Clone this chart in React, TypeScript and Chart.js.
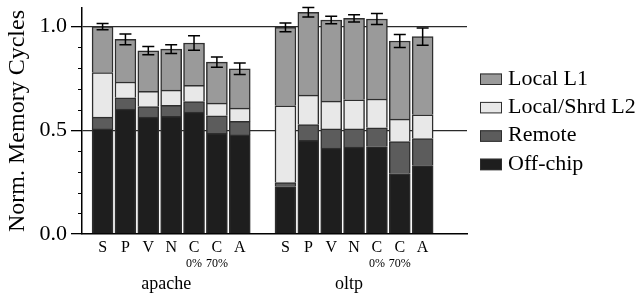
import React, { useEffect, useRef } from 'react';
import { Chart, registerables } from 'chart.js';

Chart.register(...registerables);

// ---------- data ----------
const groups = ['apache', 'oltp'];
const configs = ['S', 'P', 'V', 'N', 'C', 'C', 'A'];
const configNotes = ['', '', '', '', '0%', '70%', ''];
const seriesNames = ['Off-chip', 'Remote', 'Local/Shrd L2', 'Local L1'];
const offChip = [0.507, 0.602, 0.564, 0.568, 0.588, 0.485, 0.478, 0.229, 0.452, 0.414, 0.419, 0.422, 0.29, 0.33];
const remote = [0.057, 0.055, 0.051, 0.052, 0.051, 0.085, 0.065, 0.019, 0.076, 0.093, 0.088, 0.09, 0.156, 0.13];
const localL2 = [0.215, 0.076, 0.073, 0.074, 0.078, 0.061, 0.064, 0.37, 0.142, 0.134, 0.14, 0.139, 0.108, 0.115];
const localL1 = [0.221, 0.206, 0.196, 0.198, 0.204, 0.198, 0.19, 0.379, 0.399, 0.391, 0.393, 0.386, 0.377, 0.377];
const errors = [0.015, 0.026, 0.02, 0.021, 0.035, 0.025, 0.028, 0.021, 0.023, 0.018, 0.017, 0.027, 0.031, 0.042];
const yMajorTicks = [0, 0.5, 1.0];
const yTickLabels = ['0.0', '0.5', '1.0'];
const yMinorStep = 0.1;

// ---------- styling ----------
const FONT = "'Liberation Serif', 'Times New Roman', 'DejaVu Serif', serif";
const colors = ['#1e1e1e', '#5c5c5c', '#e8e8e8', '#9a9a9a'];
const borderColor = '#2e2e2e';

const slotsPerGroup = configs.length + 1;
const slotX = (g: number, i: number) => g * slotsPerGroup + i;
const barSlots: number[] = [];
const barLabels: string[] = [];
const barNotes: string[] = [];
groups.forEach((_, g) =>
  configs.forEach((c, i) => {
    barSlots.push(slotX(g, i));
    barLabels.push(c);
    barNotes.push(configNotes[i]);
  })
);
const seriesValues = [offChip, remote, localL2, localL1];

const near = (a: number, b: number) => Math.abs(a - b) < 1e-6;
const isMajor = (v: number) => yMajorTicks.some((m) => near(m, v));

const extrasPlugin = {
  id: 'extras',
  afterDatasetsDraw(chart: any) {
    const { ctx, scales } = chart;
    const xs = scales.x;
    const ys = scales.y;
    ctx.save();
    ctx.strokeStyle = '#000';
    ctx.lineWidth = 1.5;
    barSlots.forEach((s, k) => {
      const total = seriesValues.reduce((acc, arr) => acc + arr[k], 0);
      const px = xs.getPixelForValue(s);
      const yHi = ys.getPixelForValue(total + errors[k]);
      const yLo = ys.getPixelForValue(total - errors[k]);
      ctx.beginPath();
      ctx.moveTo(px, yHi);
      ctx.lineTo(px, yLo);
      ctx.moveTo(px - 6, yHi);
      ctx.lineTo(px + 6, yHi);
      ctx.moveTo(px - 6, yLo);
      ctx.lineTo(px + 6, yLo);
      ctx.stroke();
    });
    ctx.restore();
  },
  afterDraw(chart: any) {
    const { ctx, scales, chartArea } = chart;
    const xs = scales.x;
    const ys = scales.y;
    ctx.save();
    // minor y ticks
    ctx.strokeStyle = '#000';
    ctx.lineWidth = 1;
    for (let i = 1; i <= 10; i++) {
      const v = Math.round(i * yMinorStep * 10) / 10;
      if (isMajor(v)) continue;
      const py = Math.round(ys.getPixelForValue(v)) + 0.5;
      ctx.beginPath();
      ctx.moveTo(chartArea.left - 4, py);
      ctx.lineTo(chartArea.left, py);
      ctx.stroke();
    }
    // sub notes under ticks
    ctx.fillStyle = '#000';
    ctx.textAlign = 'center';
    ctx.textBaseline = 'alphabetic';
    ctx.font = `12px ${FONT}`;
    barSlots.forEach((s, k) => {
      if (barNotes[k]) ctx.fillText(barNotes[k], xs.getPixelForValue(s), chartArea.bottom + 32.5);
    });
    // group labels
    ctx.font = `18px ${FONT}`;
    groups.forEach((g, gi) => {
      const center = xs.getPixelForValue(slotX(gi, (configs.length - 1) / 2));
      ctx.fillText(g, center - 5, chartArea.bottom + 55);
    });
    // legend (top to bottom: reverse of stacking order)
    const ds = chart.data.datasets.slice().reverse();
    const bx = chartArea.right + 13;
    ds.forEach((d: any, i: number) => {
      const top = 73.5 + 28.4 * i;
      ctx.fillStyle = d.backgroundColor;
      ctx.fillRect(bx, top, 22, 11.5);
      ctx.strokeStyle = borderColor;
      ctx.lineWidth = 1;
      ctx.strokeRect(bx + 0.5, top + 0.5, 21, 10.5);
      ctx.fillStyle = '#000';
      ctx.textAlign = 'left';
      ctx.font = `22px ${FONT}`;
      ctx.fillText(d.label, bx + 28, top + 11);
    });
    ctx.restore();
  },
};

export default function App() {
  const canvasRef = useRef<HTMLCanvasElement | null>(null);

  useEffect(() => {
    if (!canvasRef.current) return;
    const datasets = seriesValues.map((vals, si) => ({
      label: seriesNames[si],
      data: vals.map((v, k) => ({ x: barSlots[k], y: v })),
      backgroundColor: colors[si],
      borderColor: borderColor,
      borderWidth: 1.5,
      barThickness: 21,
    }));
    const chart = new Chart(canvasRef.current, {
      type: 'bar',
      data: { datasets },
      plugins: [extrasPlugin],
      options: {
        animation: false,
        responsive: false,
        maintainAspectRatio: false,
        layout: { padding: { top: 8, right: 171, bottom: 0, left: 0 } },
        plugins: {
          legend: { display: false },
          tooltip: { enabled: false },
          title: { display: false },
        },
        scales: {
          x: {
            type: 'linear',
            stacked: true,
            min: -0.9,
            max: 15.94,
            offset: false,
            grid: { display: false },
            border: { display: true, color: '#000', width: 1.5 },
            afterBuildTicks: (scale: any) => {
              scale.ticks = barSlots.map((v) => ({ value: v }));
            },
            afterFit: (scale: any) => {
              scale.height = 65;
              scale.paddingLeft = 0;
              scale.paddingRight = 0;
            },
            ticks: {
              autoSkip: false,
              maxRotation: 0,
              padding: -4,
              color: '#000',
              font: { family: FONT, size: 16 },
              callback: (value: any) => {
                const k = barSlots.indexOf(Number(value));
                return k >= 0 ? barLabels[k] : '';
              },
            },
          },
          y: {
            type: 'linear',
            stacked: true,
            min: 0,
            max: 1.09,
            afterBuildTicks: (scale: any) => {
              const t: any[] = [];
              for (let i = 0; i <= 10; i++) t.push({ value: Math.round(i * yMinorStep * 10) / 10 });
              scale.ticks = t;
            },
            afterFit: (scale: any) => {
              scale.width = 82;
              scale.paddingTop = 0;
              scale.paddingBottom = 0;
            },
            border: { display: true, color: '#000', width: 1.5 },
            grid: {
              drawOnChartArea: true,
              tickLength: 11,
              lineWidth: 1.3,
              color: (c: any) => (c.tick && isMajor(c.tick.value) && c.tick.value > 0 ? '#2a2a2a' : 'rgba(0,0,0,0)'),
              tickColor: (c: any) => (c.tick && isMajor(c.tick.value) ? '#000' : 'rgba(0,0,0,0)'),
            },
            ticks: {
              autoSkip: false,
              padding: 4,
              color: '#000',
              font: { family: FONT, size: 22 },
              callback: (value: any) => {
                const k = yMajorTicks.findIndex((m) => near(m, Number(value)));
                return k >= 0 ? yTickLabels[k] : '';
              },
            },
            title: {
              display: true,
              text: 'Norm. Memory Cycles',
              color: '#000',
              font: { family: FONT, size: 24 },
              padding: { top: 3, bottom: 0 },
            },
          },
        },
      },
    } as any);
    return () => chart.destroy();
  }, []);

  return (
    <div style={{ position: 'absolute', left: 0, top: 0, width: 638, height: 299, background: '#fff' }}>
      <canvas ref={canvasRef} width={638} height={299} style={{ display: 'block' }} />
    </div>
  );
}
